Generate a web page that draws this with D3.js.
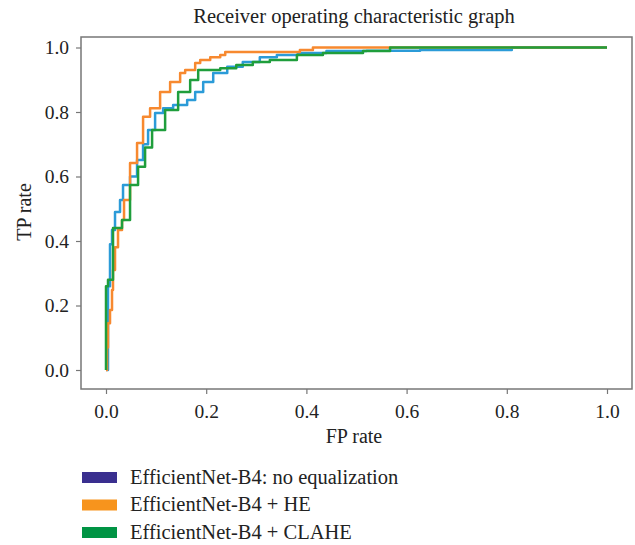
<!DOCTYPE html>
<html>
<head>
<meta charset="utf-8">
<script src="https://cdn.jsdelivr.net/npm/d3@7"></script>
<style>
  body { margin: 0; background: white; }
  text { font-family: "Liberation Serif", "DejaVu Serif", serif; fill: #222; }
</style>
</head>
<body>
<script>
// FP / TP rates, one pair of arrays per model
const fprNone = [0, 0.004, 0.008, 0.012, 0.018, 0.028, 0.034, 0.048, 0.062, 0.074, 0.084, 0.098, 0.114, 0.134, 0.162, 0.178, 0.194, 0.214, 0.242, 0.273, 0.307, 0.341, 0.383, 0.44, 0.52, 0.627, 0.81, 0.81, 1.0];
const tprNone = [0, 0.26, 0.39, 0.434, 0.49, 0.527, 0.574, 0.6, 0.651, 0.7, 0.744, 0.797, 0.812, 0.822, 0.837, 0.862, 0.893, 0.921, 0.94, 0.955, 0.97, 0.977, 0.983, 0.989, 0.99, 0.992, 0.995, 1.0, 1.0];

const fprHE = [0, 0.002, 0.004, 0.008, 0.012, 0.014, 0.018, 0.024, 0.032, 0.036, 0.048, 0.062, 0.074, 0.088, 0.108, 0.128, 0.148, 0.158, 0.178, 0.188, 0.208, 0.228, 0.238, 0.387, 0.413, 1.0];
const tprHE = [0, 0.07, 0.145, 0.186, 0.248, 0.31, 0.381, 0.434, 0.465, 0.527, 0.642, 0.704, 0.785, 0.812, 0.862, 0.893, 0.921, 0.93, 0.952, 0.961, 0.97, 0.977, 0.986, 0.992, 1.0, 1.0];

const fprCLAHE = [0, 0, 0.004, 0.014, 0.032, 0.048, 0.048, 0.064, 0.078, 0.092, 0.118, 0.144, 0.168, 0.184, 0.228, 0.26, 0.293, 0.327, 0.381, 0.433, 0.513, 0.567, 1.0];
const tprCLAHE = [0, 0.26, 0.28, 0.44, 0.465, 0.49, 0.574, 0.63, 0.69, 0.744, 0.806, 0.862, 0.899, 0.93, 0.936, 0.946, 0.955, 0.961, 0.977, 0.983, 0.989, 1.0, 1.0];

const seriesNames = ["EfficientNet-B4: no equalization", "EfficientNet-B4 + HE", "EfficientNet-B4 + CLAHE"];
const lineColors = ["#2b9bd8", "#f7892f", "#1f9e3c"];
const legendColors = ["#3a2f8f", "#f7941d", "#009444"];
const ticks = [0, 0.2, 0.4, 0.6, 0.8, 1.0];

const width = 635, height = 545;
const frame = { left: 81, right: 632, top: 37, bottom: 389 };

const svg = d3.select("body").append("svg")
    .attr("width", width)
    .attr("height", height);

// scales: 0..1 sits inside the frame with some padding
const x = d3.scaleLinear().domain([0, 1]).range([106, 607]);
const y = d3.scaleLinear().domain([0, 1]).range([370, 47.5]);

// title
svg.append("text")
    .attr("x", 354).attr("y", 23)
    .attr("text-anchor", "middle")
    .attr("font-size", 20.5)
    .text("Receiver operating characteristic graph");

// axes
const xAxis = svg.append("g")
    .attr("transform", `translate(0,${frame.bottom})`)
    .call(d3.axisBottom(x).tickValues(ticks).tickFormat(d3.format(".1f")).tickSize(5).tickSizeOuter(0));
const yAxis = svg.append("g")
    .attr("transform", `translate(${frame.left},0)`)
    .call(d3.axisLeft(y).tickValues(ticks).tickFormat(d3.format(".1f")).tickSize(5).tickSizeOuter(0));

[xAxis, yAxis].forEach(g => {
    g.select(".domain").remove();
    g.selectAll(".tick line").attr("stroke", "#777").attr("stroke-width", 1.2);
    g.selectAll(".tick text")
        .attr("font-family", "Liberation Serif, serif")
        .attr("font-size", 19.5)
        .attr("fill", "#222");
});
xAxis.selectAll(".tick text").attr("dy", "1em").attr("y", 9);
yAxis.selectAll(".tick text").attr("x", -12);

// frame
svg.append("rect")
    .attr("x", frame.left).attr("y", frame.top)
    .attr("width", frame.right - frame.left)
    .attr("height", frame.bottom - frame.top)
    .attr("fill", "none")
    .attr("stroke", "#777")
    .attr("stroke-width", 1.5);

// axis titles
svg.append("text")
    .attr("x", 354).attr("y", 443)
    .attr("text-anchor", "middle")
    .attr("font-size", 20)
    .text("FP rate");

svg.append("text")
    .attr("transform", "translate(31,212) rotate(-90)")
    .attr("text-anchor", "middle")
    .attr("font-size", 20)
    .text("TP rate");

// curves
const line = d3.line()
    .x(d => x(d[0]))
    .y(d => y(d[1]))
    .curve(d3.curveStepAfter);

const curves = [
    d3.zip(fprNone, tprNone),
    d3.zip(fprHE, tprHE),
    d3.zip(fprCLAHE, tprCLAHE)
];

curves.forEach((pts, i) => {
    svg.append("path")
        .datum(pts)
        .attr("fill", "none")
        .attr("stroke", lineColors[i])
        .attr("stroke-width", 2.5)
        .attr("stroke-linejoin", "round")
        .attr("d", line);
});

// legend
const legend = svg.append("g");
seriesNames.forEach((name, i) => {
    const ly = 472 + i * 27.5;
    legend.append("rect")
        .attr("x", 82).attr("y", ly)
        .attr("width", 35).attr("height", 11)
        .attr("fill", legendColors[i]);
    legend.append("text")
        .attr("x", 130).attr("y", ly + 11.5)
        .attr("font-size", 20.5)
        .text(name);
});
</script>
</body>
</html>
